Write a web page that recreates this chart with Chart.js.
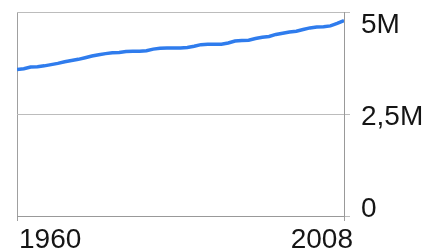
<!DOCTYPE html>
<html>
<head>
<meta charset="utf-8">
<script src="https://cdn.jsdelivr.net/npm/chart.js@4/dist/chart.umd.min.js"></script>
<style>
  html, body { margin: 0; padding: 0; background: #fff; }
  #wrap { width: 434px; height: 251px; }
</style>
</head>
<body>
<div id="wrap"><canvas id="c" width="434" height="251"></canvas></div>
<script>
// years 1960..2008, population (millions)
const YEARS = [1960,1961,1962,1963,1964,1965,1966,1967,1968,1969,1970,1971,1972,1973,1974,1975,1976,1977,1978,1979,1980,1981,1982,1983,1984,1985,1986,1987,1988,1989,1990,1991,1992,1993,1994,1995,1996,1997,1998,1999,2000,2001,2002,2003,2004,2005,2006,2007,2008];
const POP_M = [3.59,3.61,3.65,3.66,3.68,3.71,3.74,3.78,3.81,3.84,3.88,3.92,3.95,3.98,4.00,4.01,4.03,4.04,4.04,4.05,4.09,4.11,4.12,4.12,4.12,4.13,4.16,4.20,4.21,4.21,4.21,4.24,4.29,4.30,4.31,4.35,4.38,4.40,4.45,4.48,4.51,4.53,4.57,4.61,4.63,4.64,4.66,4.72,4.79];
const X_TICKS = [1960, 2008];
const Y_TICKS = [0, 2500000, 5000000];
const Y_LABELS = ["0", "2,5M", "5M"];

const FONT = '28px "Liberation Sans", Arial, sans-serif';

// draw tick labels the way the original does: first/last kept inside
const labelPlugin = {
  id: "labels",
  afterDraw(chart) {
    const ctx = chart.ctx;
    const xs = chart.scales.x, ys = chart.scales.y;
    ctx.save();
    ctx.font = FONT;
    ctx.fillStyle = "#151515";
    ctx.textBaseline = "alphabetic";
    ctx.textAlign = "left";
    const lx = ys.left + 17;
    Y_TICKS.forEach((v, i) => {
      const py = ys.getPixelForValue(v);
      const off = i === 0 ? 1 : i === Y_TICKS.length - 1 ? 21 : 11;
      ctx.fillText(Y_LABELS[i], lx, py + off);
    });
    ctx.fillText(String(X_TICKS[0]), xs.getPixelForValue(X_TICKS[0]) + 2, 248);
    ctx.textAlign = "right";
    ctx.fillText(String(X_TICKS[1]), xs.getPixelForValue(X_TICKS[1]) + 9, 248);
    ctx.restore();
  }
};

new Chart(document.getElementById("c"), {
  type: "line",
  data: {
    labels: YEARS,
    datasets: [{
      data: YEARS.map((y, i) => ({ x: y, y: POP_M[i] * 1e6 })),
      borderColor: "#2f7ced",
      borderWidth: 3.5,
      pointRadius: 0,
      tension: 0,
      fill: false
    }]
  },
  options: {
    responsive: false,
    animation: false,
    events: [],
    layout: { padding: { top: 12, left: 17, right: 0, bottom: 0 } },
    plugins: { legend: { display: false }, tooltip: { enabled: false } },
    scales: {
      x: {
        type: "linear",
        min: 1960,
        max: 2008,
        afterBuildTicks: s => { s.ticks = X_TICKS.map(v => ({ value: v })); },
        afterFit: s => { s.height = 35; },
        ticks: { display: false },
        grid: { color: "#a0a0a0", lineWidth: 1, drawTicks: true, tickLength: 5 },
        border: { color: "#999", width: 1 }
      },
      y: {
        position: "right",
        min: 0,
        max: 5000000,
        afterBuildTicks: s => { s.ticks = Y_TICKS.map(v => ({ value: v })); },
        afterFit: s => { s.width = 90; },
        ticks: { display: false },
        grid: { color: "#bcbcbc", lineWidth: 1, drawTicks: true, tickLength: 6 },
        border: { color: "#999", width: 1 }
      }
    }
  },
  plugins: [labelPlugin]
});
</script>
</body>
</html>
